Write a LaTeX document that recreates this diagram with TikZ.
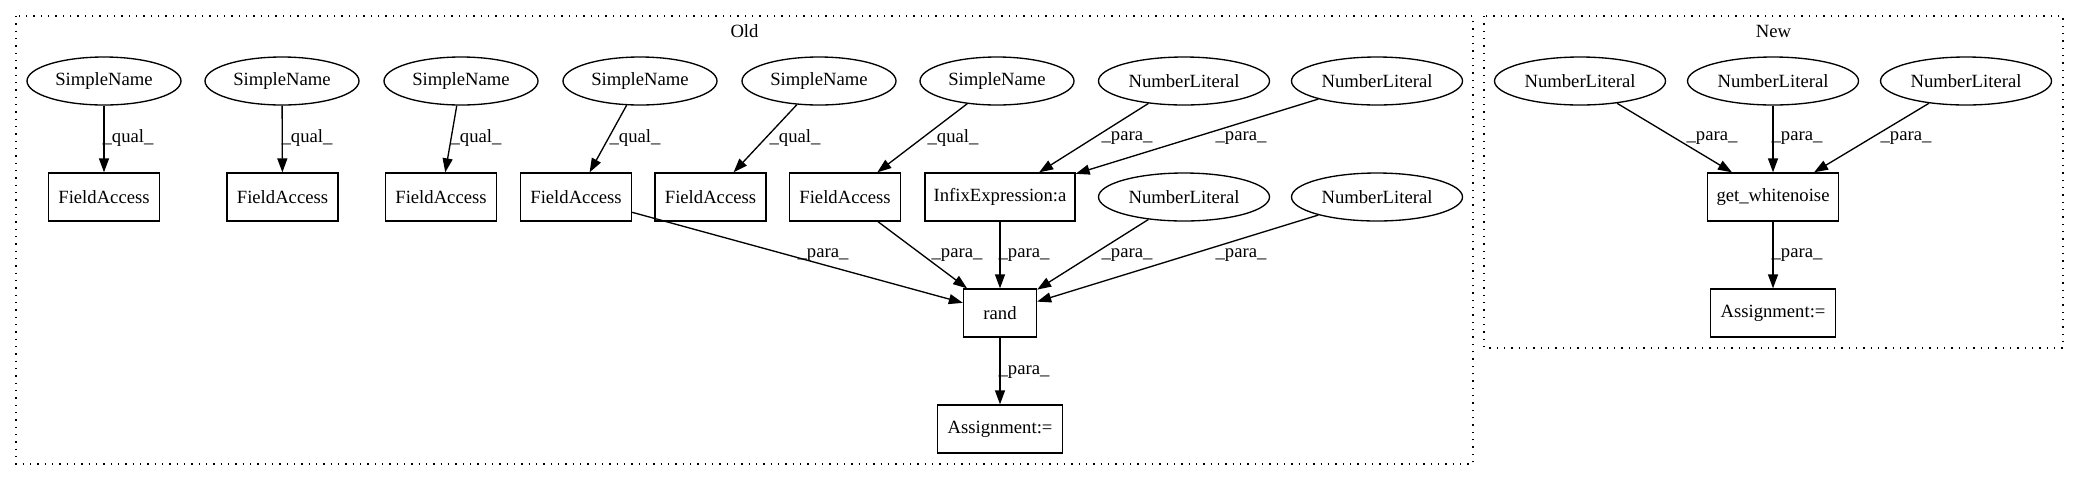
\documentclass[tikz,border=0pt]{standalone}
\usepackage{fontspec}
\setmainfont{Liberation Serif}
\usetikzlibrary{shapes.geometric,arrows.meta}
\tikzset{
  base/.style={draw=black, line width=1pt, inner sep=0pt, font=\fontsize{14pt}{16pt}\selectfont, minimum height=36pt},
  ell/.style={base, ellipse},
  sname/.style={ell, minimum width=115.5pt},
  nlit/.style={ell, minimum width=128.25pt},
  boxn/.style={base, rectangle},
  edge/.style={line width=1pt, -{Triangle[length=10.5pt,width=7.5pt]}},
  elab/.style={inner sep=0pt, font=\fontsize{14pt}{16pt}\selectfont},
  cluster/.style={line width=1pt, dash pattern=on 1pt off 4.5pt},
  clab/.style={inner sep=0pt, font=\fontsize{14pt}{16pt}\selectfont}
}
\begin{document}
\begin{tikzpicture}[x=0.75pt,y=-0.75pt]
\useasboundingbox (0,0) rectangle (2079,480);
% clusters
\draw[cluster] (16,16) rectangle (1473,464);
\draw[cluster] (1484,16) rectangle (2063,348);
\node[clab] (oldlab) at (744.5,31) {Old};
\node[clab] (newlab) at (1773.5,31) {New};
% Old row 1
\node[sname] (sn1) at (104,81) {SimpleName};
\node[sname] (sn2) at (282,81) {SimpleName};
\node[sname] (sn3) at (461,81) {SimpleName};
\node[sname] (sn4) at (640,81) {SimpleName};
\node[sname] (sn5) at (819,81) {SimpleName};
\node[sname] (sn6) at (997,81) {SimpleName};
\node[nlit] (nl1) at (1184,81) {NumberLiteral};
\node[nlit] (nl2) at (1377,81) {NumberLiteral};
% Old row 2
\node[boxn, minimum width=83.25pt] (fa1) at (104,197) {FieldAccess};
\node[boxn, minimum width=83.25pt] (fa2) at (282.5,197) {FieldAccess};
\node[boxn, minimum width=83.25pt] (fa3) at (441,197) {FieldAccess};
\node[boxn, minimum width=83.25pt] (fa4) at (576,197) {FieldAccess};
\node[boxn, minimum width=83.25pt] (fa5) at (710.5,197) {FieldAccess};
\node[boxn, minimum width=83.25pt] (fa6) at (845,197) {FieldAccess};
\node[boxn, minimum width=112.5pt] (infix) at (1000,197) {InfixExpression:a};
\node[nlit] (nl3) at (1184,197) {NumberLiteral};
\node[nlit] (nl4) at (1377,197) {NumberLiteral};
% Old row 3/4
\node[boxn, minimum width=54.75pt] (rand) at (1000,313) {rand};
\node[boxn, minimum width=93.75pt] (asg1) at (1000,429) {Assignment:=};
% New
\node[nlit] (nn1) at (1580,81) {NumberLiteral};
\node[nlit] (nn2) at (1773,81) {NumberLiteral};
\node[nlit] (nn3) at (1966,81) {NumberLiteral};
\node[boxn, minimum width=98.25pt] (gw) at (1773,197) {get\_whitenoise};
\node[boxn, minimum width=93.75pt] (asg2) at (1773,313) {Assignment:=};
% edges Old
\draw[edge] (sn1) -- (fa1);
\draw[edge] (sn2) -- (fa2);
\draw[edge] (sn3) -- (fa3);
\draw[edge] (sn4) -- (fa4);
\draw[edge] (sn5) -- (fa5);
\draw[edge] (sn6) -- (fa6);
\draw[edge] (nl1) -- (infix);
\draw[edge] (nl2) -- (infix);
\draw[edge] (fa4) -- (rand);
\draw[edge] (fa6) -- (rand);
\draw[edge] (infix) -- (rand);
\draw[edge] (nl3) -- (rand);
\draw[edge] (nl4) -- (rand);
\draw[edge] (rand) -- (asg1);
% edges New
\draw[edge] (nn1) -- (gw);
\draw[edge] (nn2) -- (gw);
\draw[edge] (nn3) -- (gw);
\draw[edge] (gw) -- (asg2);
% edge labels
\node[elab] (l1) at (128,138) {\_qual\_};
\node[elab] (l2) at (307,138) {\_qual\_};
\node[elab] (l3) at (476,138) {\_qual\_};
\node[elab] (l4) at (635,138) {\_qual\_};
\node[elab] (l5) at (795,138) {\_qual\_};
\node[elab] (l6) at (953,138) {\_qual\_};
\node[elab] (l7) at (1127,138) {\_para\_};
\node[elab] (l8) at (1241,138) {\_para\_};
\node[elab] (l9) at (823,255) {\_para\_};
\node[elab] (l10) at (957,255) {\_para\_};
\node[elab] (l11) at (1024,255) {\_para\_};
\node[elab] (l12) at (1127,255) {\_para\_};
\node[elab] (l13) at (1241,255) {\_para\_};
\node[elab] (l14) at (1024,372) {\_para\_};
\node[elab] (l15) at (1712,138) {\_para\_};
\node[elab] (l16) at (1797,138) {\_para\_};
\node[elab] (l17) at (1906,138) {\_para\_};
\node[elab] (l18) at (1797,255) {\_para\_};
\end{tikzpicture}
\end{document}
